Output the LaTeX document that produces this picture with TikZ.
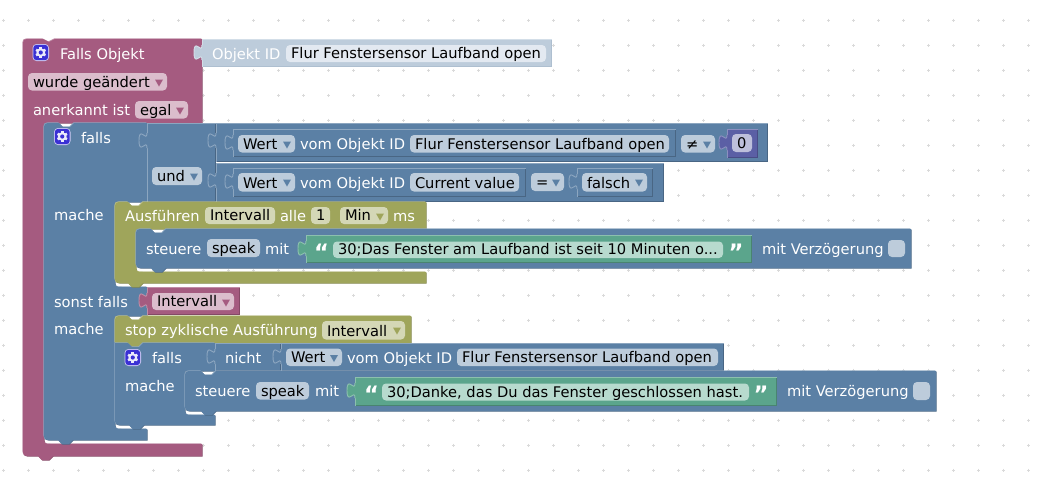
\documentclass[tikz,border=0pt]{standalone}
\usepackage{fontspec}
\setmainfont{DejaVu Sans}
\definecolor{rD}{HTML}{844966}\definecolor{rB}{HTML}{A55B80}\definecolor{rL}{HTML}{C08CA6}\definecolor{rF}{HTML}{DBBDCC}
\definecolor{bD}{HTML}{496684}\definecolor{bB}{HTML}{5B80A5}\definecolor{bL}{HTML}{8CA6C0}\definecolor{bF}{HTML}{BDCCDB}
\definecolor{oD}{HTML}{7F8449}\definecolor{oB}{HTML}{9FA55B}\definecolor{oL}{HTML}{BCC08C}\definecolor{oF}{HTML}{D4D7B6}
\definecolor{gD}{HTML}{498470}\definecolor{gB}{HTML}{5BA58C}\definecolor{gL}{HTML}{8CC0AE}\definecolor{gF}{HTML}{B7DACE}
\definecolor{pD}{HTML}{494C85}\definecolor{pB}{HTML}{5B5FA5}\definecolor{pL}{HTML}{8C8FC0}\definecolor{pF}{HTML}{BDBFDB}
\definecolor{iD}{HTML}{AEBFD0}\definecolor{iB}{HTML}{BDCCDB}\definecolor{iL}{HTML}{D3DEE8}\definecolor{iF}{HTML}{E3E9F1}
\definecolor{gearbg}{HTML}{3A30D4}
\definecolor{griddot}{HTML}{DADADA}
\tikzset{
  txt/.style={inner sep=0,outer sep=0,anchor=base west,font=\fontsize{11}{13}\selectfont},
  wtxt/.style={txt,text=white},
  ktxt/.style={txt,text=black},
  qmark/.style={inner sep=0,outer sep=0,anchor=center,text=white,font=\fontsize{17}{17}\bfseries\selectfont},
  rim/.style={line width=0.7pt,line cap=butt}
}
% bump along a bottom edge, travelling leftwards; dent along a top edge, travelling rightwards
\newcommand\bumpB[2]{-- (#1+15,#2) -- (#1+11,#2+4) -- (#1+4,#2+4) -- (#1,#2)}
\newcommand\dentT[2]{-- (#1,#2) -- (#1+4,#2+4) -- (#1+11,#2+4) -- (#1+15,#2)}
% block with light upper-left and dark lower-right rim
\newcommand\blk[2]{%
  \path[fill=#1D,shift={(0.6,0.6)}] #2;
  \path[fill=#1L,shift={(-0.6,-0.6)}] #2;
  \path[fill=#1B] #2;}
\newcommand\boxblk[5]{%
  \path[fill=#1B] (#2,#3) rectangle (#4,#5);
  \draw[#1D,rim] (#4-0.5,#3) -- (#4-0.5,#5-0.5) -- (#2,#5-0.5);
  \draw[#1L,rim] (#2+0.5,#5) -- (#2+0.5,#3+0.5) -- (#4,#3+0.5);}
% puzzle tab whose right side is at x, block top at y
\newcommand\tabp[3]{%
  \path[fill=#1B] (#2+1.5,#3+5) -- (#2,#3+5) .. controls (#2,#3+15) and (#2-8,#3-3) .. (#2-8,#3+12.5) .. controls (#2-8,#3+28) and (#2,#3+10) .. (#2,#3+20) -- (#2+1.5,#3+20) -- cycle;
  \draw[#1L,rim] (#2,#3+5) .. controls (#2,#3+15) and (#2-8,#3-3) .. (#2-8,#3+12.5) .. controls (#2-8,#3+28) and (#2,#3+10) .. (#2,#3+20);}
% field: name x1 y1 x2 y2 fill arrow text
\newcommand\fld[8]{%
  \fill[#6,rounded corners=3pt] (#2,#3) rectangle (#4,#5);
  \node[ktxt] (#1) at (#2+5,#5-3.5) {#8};
  \def\tmparrow{#7}%
  \ifx\tmparrow\empty\else
    \fill[#7] (#4-12,#3+6.5) -- (#4-4,#3+6.5) -- (#4-8,#3+13.5) -- cycle;
  \fi}
\newcommand\gearicon[2]{%
  \begin{scope}[shift={(#1,#2)}]
    \fill[white!75!gearbg,rounded corners=3pt] (0,0) rectangle (16.5,17);
    \fill[gearbg,rounded corners=2.5pt] (0.8,0.8) rectangle (15.7,16.2);
    \foreach \a in {30,90,...,330}
      \draw[white!90!gearbg,line width=1.9pt] (8.25,8.5) -- ++(\a:5.4);
    \fill[white!90!gearbg] (8.25,8.5) circle[radius=4.3];
    \fill[gearbg] (8.25,8.5) circle[radius=2.1];
  \end{scope}}
\begin{document}
\begin{tikzpicture}[x=0.75pt,y=-0.75pt]
\useasboundingbox (0,0) rectangle (1050,476);
\fill[white] (0,0) rectangle (1050,476);
% workspace grid
\foreach \gx in {0,...,41}
  \foreach \gy in {0,...,18}
    \draw[griddot,line width=0.6pt] (3.5+25*\gx-1.5,20+25*\gy) -- ++(3,0) (3.5+25*\gx,20+25*\gy-1.5) -- ++(0,3);

% hat block
\blk{r}{(23,47) .. controls (23,39) .. (31,39) -- (43,39) -- (49,42) -- (55,39) -- (202,39) -- (202,123) -- (44,123) -- (44,436) .. controls (44,444) .. (52,444) -- (202,444) -- (202,456) \bumpB{38}{456} -- (31,456) .. controls (23,456) .. (23,448) -- cycle}
\boxblk{i}{202}{39}{552}{67}
\tabp{i}{202}{40}
\gearicon{32.5}{44}
\node[wtxt] (t1) at (60,59) {Falls Objekt};
\fld{f1}{28}{73}{167}{90.5}{rF}{rB}{wurde geändert}
\node[wtxt] (t2) at (33,115) {anerkannt ist};
\fld{f2}{135}{101}{188}{118.5}{rF}{rB}{egal}
\node[wtxt,text=white] (t3) at (212,59) {Objekt ID};
\fld{f3}{286}{45}{546}{62}{iF}{}{Flur Fenstersensor Laufband open}

% outer falls block
\blk{b}{(44,131) .. controls (44,123) .. (52,123) \dentT{59}{123} -- (147,123) -- (147,202) -- (115,202) -- (115,279) .. controls (115,287) .. (123,287) -- (147,287) -- (147,316) -- (115,316) -- (115,421) .. controls (115,429) .. (123,429) -- (147,429) -- (147,440) \bumpB{58}{440} -- (52,440) .. controls (44,440) .. (44,432) -- cycle}
\gearicon{54}{128}
\node[wtxt] (t4) at (81,143) {falls};
\node[wtxt] (t5) at (54,220) {mache};
\node[wtxt] (t6) at (54,307) {sonst falls};
\node[wtxt] (t7) at (54,334) {mache};

% und block and its comparisons
\boxblk{b}{147}{123}{216}{202}
\tabp{b}{147}{128}
\fld{f4}{152}{167}{202}{185}{bF}{bB}{und}
\boxblk{b}{216}{123}{768}{162}
\tabp{b}{216}{128}
\boxblk{b}{233}{129}{676}{157}
\tabp{b}{233}{130}
\fld{f5}{238}{135}{295}{152.5}{bF}{bB}{Wert}
\node[wtxt] (t8) at (300,149) {vom Objekt ID};
\fld{f6}{410}{135}{669}{152.5}{bF}{}{Flur Fenstersensor Laufband open}
\fld{f7}{681}{135}{715}{152.5}{bF}{bB}{≠}
\boxblk{p}{727}{129}{758}{158}
\tabp{p}{727}{130}
\fld{f8}{732}{134}{752}{152}{pF}{}{0}
\boxblk{b}{216}{163}{664}{202}
\tabp{b}{216}{168}
\boxblk{b}{233}{168}{526}{197}
\tabp{b}{233}{169}
\fld{f9}{238}{173}{295}{191.5}{bF}{bB}{Wert}
\node[wtxt] (t9) at (300,188) {vom Objekt ID};
\fld{f10}{410}{173}{519}{191.5}{bF}{}{Current value}
\fld{f11}{531}{173}{564}{191}{bF}{bB}{=}
\boxblk{b}{577}{168}{653}{197}
\tabp{b}{577}{169}
\fld{f12}{582}{173}{647}{191.5}{bF}{bB}{falsch}

% Ausführen block
\blk{o}{(115,210) .. controls (115,202) .. (123,202) \dentT{128}{202} -- (426,202) -- (426,229) -- (136,229) -- (136,264) .. controls (136,272) .. (144,272) -- (426,272) -- (426,283) \bumpB{128}{283} -- (123,283) .. controls (115,283) .. (115,275) -- cycle}
\node[wtxt] (t10) at (125,221) {Ausführen};
\fld{f13}{205}{207}{275}{224}{oF}{}{Intervall}
\node[wtxt] (t11) at (280,221) {alle};
\fld{f14}{311}{207}{330}{224}{oF}{}{1}
\fld{f15}{340}{207}{388}{224}{oF}{oB}{Min}
\node[wtxt] (t12) at (393,221) {ms};

% first steuere block
\blk{b}{(136,237) .. controls (136,229) .. (144,229) \dentT{151}{229} -- (911,229) -- (911,268) \bumpB{151}{268} -- (144,268) .. controls (136,268) .. (136,260) -- cycle}
\node[wtxt] (t13) at (146,254) {steuere};
\fld{f16}{207}{239}{260}{257}{bF}{}{speak}
\node[wtxt] (t14) at (265,254) {mit};
\boxblk{g}{306}{235}{752}{263}
\tabp{g}{306}{236}
\node[qmark] (q1) at (321.5,252) {“};
\fld{f17}{333}{241.5}{723}{258}{gF}{}{30;Das Fenster am Laufband ist seit 10 Minuten o...}
\node[qmark] (q2) at (736,252) {”};
\node[wtxt] (t15) at (762,254) {mit Verzögerung};
\fill[bF,rounded corners=3pt] (888,240) rectangle (905,257);

% red Intervall block
\boxblk{r}{147}{287}{240}{315}
\tabp{r}{147}{288}
\fld{f18}{152}{293}{234}{310}{rF}{rB}{Intervall}

% stop block
\blk{o}{(115,324) .. controls (115,316) .. (123,316) \dentT{128}{316} -- (411,316) -- (411,343) \bumpB{128}{343} -- (115,343) -- cycle}
\node[wtxt] (t16) at (125,335) {stop zyklische Ausführung};
\fld{f19}{322}{321}{405}{339.5}{oF}{oB}{Intervall}

% inner falls block
\blk{b}{(115,343) \dentT{128}{343} -- (215,343) -- (215,371) -- (185,371) -- (185,407) .. controls (185,415) .. (193,415) -- (215,415) -- (215,425) \bumpB{129}{425} -- (123,425) .. controls (115,425) .. (115,417) -- cycle}
\gearicon{124.5}{349}
\node[wtxt] (t17) at (152,363) {falls};
\node[wtxt] (t18) at (125,391) {mache};
\boxblk{b}{215}{343}{281}{371}
\tabp{b}{215}{344}
\node[wtxt] (t19) at (225,363) {nicht};
\boxblk{b}{281}{343}{724}{371}
\tabp{b}{281}{344}
\fld{f20}{286}{348.5}{342}{366}{bF}{bB}{Wert}
\node[wtxt] (t20) at (347,363) {vom Objekt ID};
\fld{f21}{457}{348.5}{718}{366}{bF}{}{Flur Fenstersensor Laufband open}

% second steuere block
\blk{b}{(185,379) .. controls (185,371) .. (193,371) \dentT{201}{371} -- (936,371) -- (936,411) \bumpB{201}{411} -- (193,411) .. controls (185,411) .. (185,403) -- cycle}
\node[wtxt] (t21) at (195,396) {steuere};
\fld{f22}{256}{382}{309}{399.5}{bF}{}{speak}
\node[wtxt] (t22) at (315,396) {mit};
\boxblk{g}{355}{377}{777}{406}
\tabp{g}{355}{378}
\node[qmark] (q3) at (371.5,394) {“};
\fld{f23}{382}{383.5}{749}{400.5}{gF}{}{30;Danke, das Du das Fenster geschlossen hast.}
\node[qmark] (q4) at (761,394) {”};
\node[wtxt] (t23) at (787,396) {mit Verzögerung};
\fill[bF,rounded corners=3pt] (913,382) rectangle (930,400);
\end{tikzpicture}
\end{document}
